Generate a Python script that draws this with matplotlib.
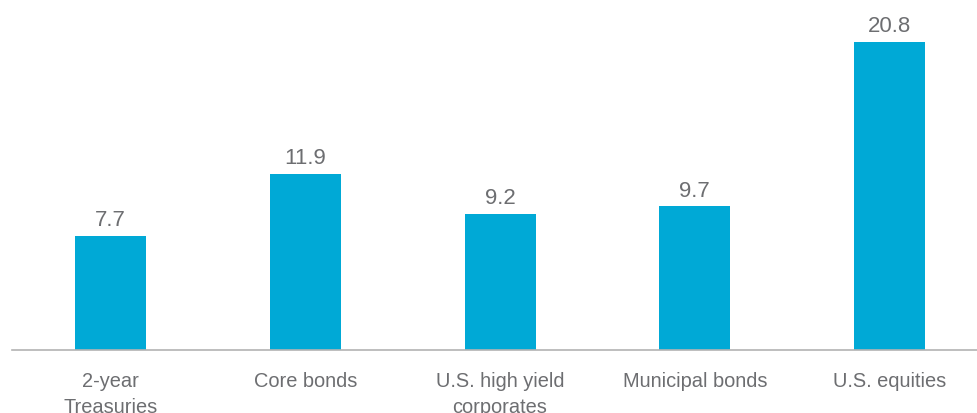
import matplotlib
matplotlib.use("Agg")
import matplotlib.pyplot as plt

# chart data
categories = ["2-year\nTreasuries", "Core bonds", "U.S. high yield\ncorporates",
              "Municipal bonds", "U.S. equities"]
values = [7.7, 11.9, 9.2, 9.7, 20.8]

BAR_COLOR = "#00a9d6"
TEXT_COLOR = "#6d6e71"

plt.rcParams["font.family"] = ["Liberation Sans", "DejaVu Sans"]

fig = plt.figure(figsize=(9.77, 4.14), dpi=100)
ax = fig.add_axes([12 / 977, 63 / 414, 965 / 977, 350 / 414])

x = list(range(len(categories)))
bars = ax.bar(x, values, width=0.365, color=BAR_COLOR, zorder=2)

for rect, v in zip(bars, values):
    ax.annotate(f"{v:.1f}", (rect.get_x() + rect.get_width() / 2, v),
                xytext=(0, 4), textcoords="offset points",
                ha="center", va="bottom", fontsize=16, color=TEXT_COLOR)

ax.set_xlim(-0.506, 4.449)
ax.set_ylim(0, 23.6)
ax.set_xticks(x)
ax.set_xticklabels(categories, fontsize=14.4, color=TEXT_COLOR, linespacing=1.45)
ax.tick_params(axis="x", length=0, pad=15)
ax.set_yticks([])

for side in ["top", "right", "left"]:
    ax.spines[side].set_visible(False)
ax.spines["bottom"].set_color("#b3b3b3")
ax.spines["bottom"].set_linewidth(1.2)

fig.savefig("out.png", dpi=100)
